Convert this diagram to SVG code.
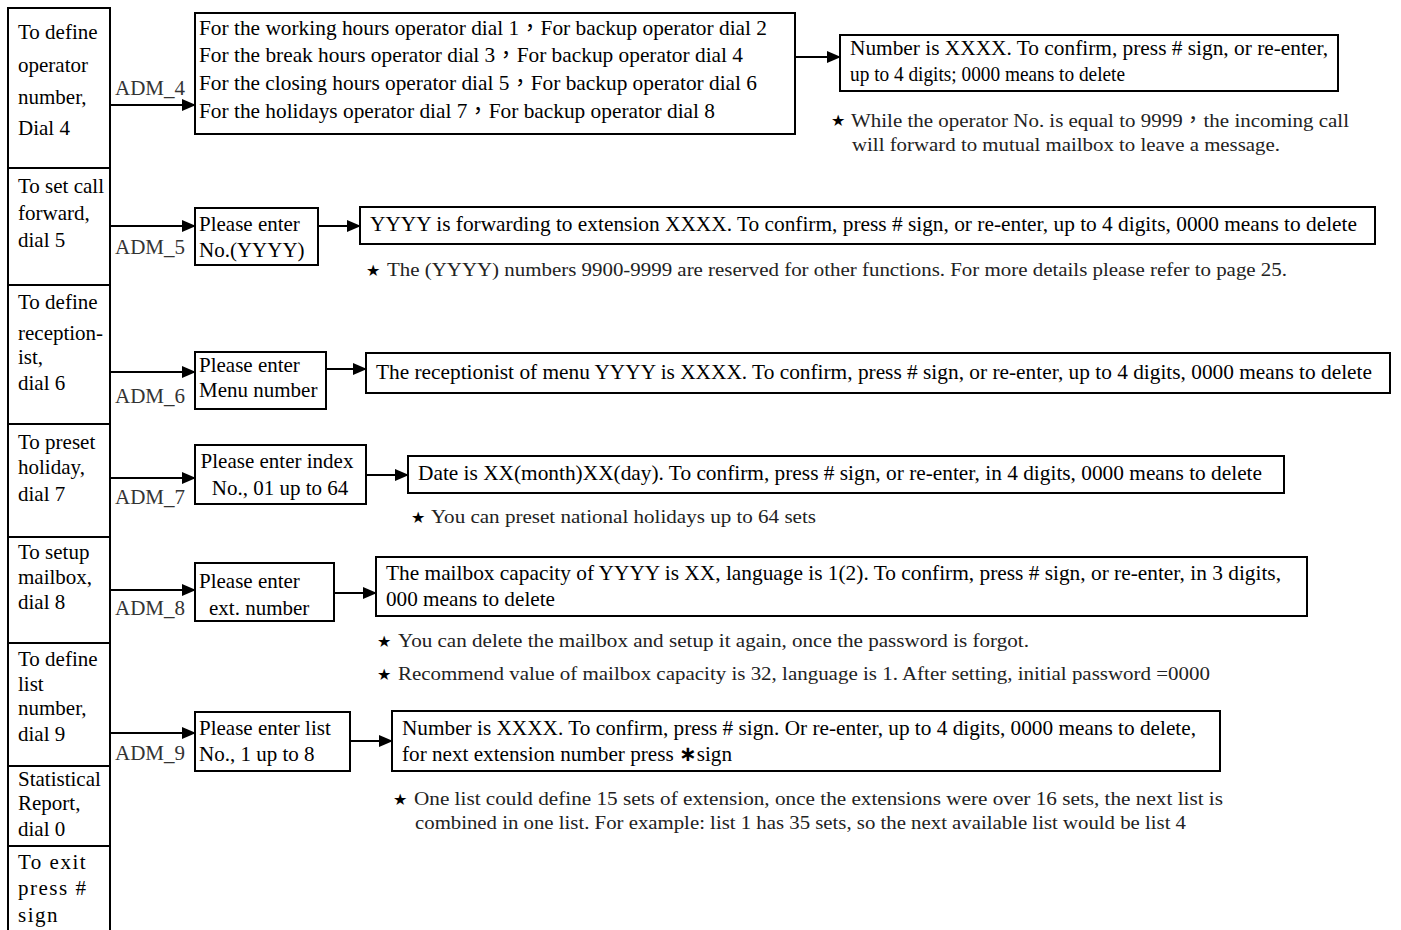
<svg xmlns="http://www.w3.org/2000/svg" width="1401" height="930" viewBox="0 0 1401 930">
<style>
.b{fill:#fff;stroke:#000;stroke-width:2}
.t{font-family:"Liberation Serif","Noto Sans CJK TC",serif;font-size:21px;fill:#000}
.l{font-family:"Liberation Serif","Noto Sans CJK TC",serif;font-size:21px;fill:#000}
.a{font-family:"Liberation Serif",serif;font-size:21px;fill:#333}
.n{font-family:"Liberation Serif","Noto Sans CJK TC",serif;font-size:19px;fill:#222}
.s{font-family:"DejaVu Sans",sans-serif;font-size:16px;fill:#000}
.c{stroke:#000;stroke-width:2;fill:none}
</style>
<defs>
<marker id="ar" markerWidth="14" markerHeight="12" refX="13" refY="6" orient="auto" markerUnits="userSpaceOnUse">
<path d="M0,0 L14,6 L0,12 Z" fill="#000"/>
</marker>
</defs>

<g id="menu">
<g id="m4"><rect class="b" x="8" y="8" width="102" height="160"/>
<text class="l" x="18" y="39">To define</text><text class="l" x="18" y="72">operator</text><text class="l" x="18" y="104">number,</text><text class="l" x="18" y="135">Dial 4</text></g>
<g id="m5"><rect class="b" x="8" y="168" width="102" height="117"/>
<text class="l" x="18" y="193">To set call</text><text class="l" x="18" y="220">forward,</text><text class="l" x="18" y="247">dial 5</text></g>
<g id="m6"><rect class="b" x="8" y="285" width="102" height="139"/>
<text class="l" x="18" y="309">To define</text><text class="l" x="18" y="340">reception-</text><text class="l" x="18" y="364">ist,</text><text class="l" x="18" y="390">dial 6</text></g>
<g id="m7"><rect class="b" x="8" y="424" width="102" height="113"/>
<text class="l" x="18" y="449">To preset</text><text class="l" x="18" y="474">holiday,</text><text class="l" x="18" y="501">dial 7</text></g>
<g id="m8"><rect class="b" x="8" y="537" width="102" height="106"/>
<text class="l" x="18" y="559">To setup</text><text class="l" x="18" y="584">mailbox,</text><text class="l" x="18" y="609">dial 8</text></g>
<g id="m9"><rect class="b" x="8" y="643" width="102" height="123"/>
<text class="l" x="18" y="666">To define</text><text class="l" x="18" y="691">list</text><text class="l" x="18" y="715">number,</text><text class="l" x="18" y="741">dial 9</text></g>
<g id="m0"><rect class="b" x="8" y="766" width="102" height="80"/>
<text class="l" x="18" y="786">Statistical</text><text class="l" x="18" y="810">Report,</text><text class="l" x="18" y="836">dial 0</text></g>
<g id="mx"><rect class="b" x="8" y="846" width="102" height="95"/>
<text class="l" x="18" y="869" letter-spacing="1.5">To exit</text><text class="l" x="18" y="895" letter-spacing="1.5">press #</text><text class="l" x="18" y="922" letter-spacing="1.5">sign</text></g>
</g>

<g id="connectors">
<line class="c" x1="110" y1="105" x2="195" y2="105" marker-end="url(#ar)"/>
<line class="c" x1="795" y1="57" x2="840" y2="57" marker-end="url(#ar)"/>
<line class="c" x1="110" y1="226" x2="195" y2="226" marker-end="url(#ar)"/>
<line class="c" x1="318" y1="226" x2="360" y2="226" marker-end="url(#ar)"/>
<line class="c" x1="110" y1="372" x2="195" y2="372" marker-end="url(#ar)"/>
<line class="c" x1="326" y1="369" x2="366" y2="369" marker-end="url(#ar)"/>
<line class="c" x1="110" y1="478" x2="195" y2="478" marker-end="url(#ar)"/>
<line class="c" x1="366" y1="475" x2="408" y2="475" marker-end="url(#ar)"/>
<line class="c" x1="110" y1="590" x2="195" y2="590" marker-end="url(#ar)"/>
<line class="c" x1="334" y1="593" x2="376" y2="593" marker-end="url(#ar)"/>
<line class="c" x1="110" y1="733" x2="195" y2="733" marker-end="url(#ar)"/>
<line class="c" x1="350" y1="741" x2="392" y2="741" marker-end="url(#ar)"/>
<text class="a" x="115" y="95">ADM_4</text>
<text class="a" x="115" y="254">ADM_5</text>
<text class="a" x="115" y="403">ADM_6</text>
<text class="a" x="115" y="504">ADM_7</text>
<text class="a" x="115" y="615">ADM_8</text>
<text class="a" x="115" y="760">ADM_9</text>
</g>

<g id="adm4">
<rect class="b" x="195" y="13" width="600" height="121"/>
<text class="t" x="199" y="35" textLength="568" lengthAdjust="spacingAndGlyphs">For the working hours operator dial 1，For backup operator dial 2</text>
<text class="t" x="199" y="62" textLength="544" lengthAdjust="spacingAndGlyphs">For the break hours operator dial 3，For backup operator dial 4</text>
<text class="t" x="199" y="90" textLength="558" lengthAdjust="spacingAndGlyphs">For the closing hours operator dial 5，For backup operator dial 6</text>
<text class="t" x="199" y="118" textLength="516" lengthAdjust="spacingAndGlyphs">For the holidays operator dial 7，For backup operator dial 8</text>
</g>
<g id="adm4r">
<rect class="b" x="840" y="35" width="498" height="56"/>
<text class="t" x="850" y="55" textLength="478" lengthAdjust="spacingAndGlyphs">Number is XXXX. To confirm, press # sign, or re-enter,</text>
<text class="t" x="850" y="81" textLength="275" lengthAdjust="spacingAndGlyphs">up to 4 digits; 0000 means to delete</text>
</g>
<g id="note4">
<text class="s" x="831" y="126">★</text>
<text class="n" x="851" y="127" textLength="498" lengthAdjust="spacingAndGlyphs">While the operator No. is equal to 9999，the incoming call</text>
<text class="n" x="852" y="151" textLength="428" lengthAdjust="spacingAndGlyphs">will forward to mutual mailbox to leave a message.</text>
</g>

<g id="adm5">
<rect class="b" x="195" y="208" width="123" height="57"/>
<text class="t" x="199" y="231">Please enter</text>
<text class="t" x="199" y="257">No.(YYYY)</text>
</g>
<g id="adm5r">
<rect class="b" x="360" y="207" width="1015" height="37"/>
<text class="t" x="370" y="231" textLength="987" lengthAdjust="spacingAndGlyphs">YYYY is forwarding to extension XXXX. To confirm, press # sign, or re-enter, up to 4 digits, 0000 means to delete</text>
</g>
<g id="note5">
<text class="s" x="366" y="276">★</text>
<text class="n" x="387" y="276" textLength="900" lengthAdjust="spacingAndGlyphs">The (YYYY) numbers 9900-9999 are reserved for other functions. For more details please refer to page 25.</text>
</g>

<g id="adm6">
<rect class="b" x="195" y="352" width="131" height="57"/>
<text class="t" x="199" y="372">Please enter</text>
<text class="t" x="199" y="397">Menu number</text>
</g>
<g id="adm6r">
<rect class="b" x="366" y="353" width="1024" height="40"/>
<text class="t" x="376" y="379" textLength="996" lengthAdjust="spacingAndGlyphs">The receptionist of menu YYYY is XXXX. To confirm, press # sign, or re-enter, up to 4 digits, 0000 means to delete</text>
</g>

<g id="adm7">
<rect class="b" x="195" y="445" width="171" height="59"/>
<text class="t" x="277" y="468" text-anchor="middle">Please enter index</text>
<text class="t" x="280" y="495" text-anchor="middle">No., 01 up to 64</text>
</g>
<g id="adm7r">
<rect class="b" x="408" y="456" width="876" height="37"/>
<text class="t" x="418" y="480" textLength="844" lengthAdjust="spacingAndGlyphs">Date is XX(month)XX(day). To confirm, press # sign, or re-enter, in 4 digits, 0000 means to delete</text>
</g>
<g id="note7">
<text class="s" x="411" y="523">★</text>
<text class="n" x="431" y="523" textLength="385" lengthAdjust="spacingAndGlyphs">You can preset national holidays up to 64 sets</text>
</g>

<g id="adm8">
<rect class="b" x="195" y="563" width="139" height="58"/>
<text class="t" x="199" y="588">Please enter</text>
<text class="t" x="209" y="615">ext. number</text>
</g>
<g id="adm8r">
<rect class="b" x="376" y="557" width="931" height="59"/>
<text class="t" x="386" y="580" textLength="895" lengthAdjust="spacingAndGlyphs">The mailbox capacity of YYYY is XX, language is 1(2). To confirm, press # sign, or re-enter, in 3 digits,</text>
<text class="t" x="386" y="606" textLength="169" lengthAdjust="spacingAndGlyphs">000 means to delete</text>
</g>
<g id="note8">
<text class="s" x="377" y="647">★</text>
<text class="n" x="398" y="647" textLength="631" lengthAdjust="spacingAndGlyphs">You can delete the mailbox and setup it again, once the password is forgot.</text>
<text class="s" x="377" y="680">★</text>
<text class="n" x="398" y="680" textLength="812" lengthAdjust="spacingAndGlyphs">Recommend value of mailbox capacity is 32, language is 1. After setting, initial password =0000</text>
</g>

<g id="adm9">
<rect class="b" x="195" y="712" width="155" height="59"/>
<text class="t" x="199" y="735">Please enter list</text>
<text class="t" x="199" y="761">No., 1 up to 8</text>
</g>
<g id="adm9r">
<rect class="b" x="392" y="711" width="828" height="60"/>
<text class="t" x="402" y="735" textLength="794" lengthAdjust="spacingAndGlyphs">Number is XXXX. To confirm, press # sign. Or re-enter, up to 4 digits, 0000 means to delete,</text>
<text class="t" x="402" y="761" textLength="330" lengthAdjust="spacingAndGlyphs">for next extension number press <tspan font-weight="bold" font-family="DejaVu Sans,sans-serif">∗</tspan>sign</text>
</g>
<g id="note9">
<text class="s" x="393" y="805">★</text>
<text class="n" x="414" y="805" textLength="809" lengthAdjust="spacingAndGlyphs">One list could define 15 sets of extension, once the extensions were over 16 sets, the next list is</text>
<text class="n" x="415" y="829" textLength="771" lengthAdjust="spacingAndGlyphs">combined in one list. For example: list 1 has 35 sets, so the next available list would be list 4</text>
</g>
</svg>
